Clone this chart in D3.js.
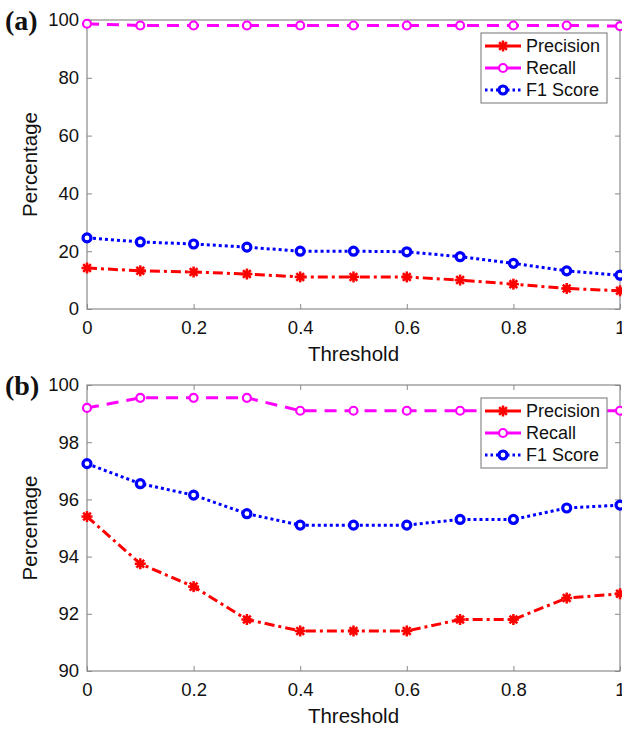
<!DOCTYPE html>
<html>
<head>
<meta charset="utf-8">
<script src="https://cdn.jsdelivr.net/npm/d3@7"></script>
<style>
  body { margin: 0; background: #fff; }
  svg { display: block; font-family: "Liberation Sans", Arial, sans-serif; }
</style>
</head>
<body>
<div id="chart"></div>
<script>
const thresholds = [0, 0.1, 0.2, 0.3, 0.4, 0.5, 0.6, 0.7, 0.8, 0.9, 1];
const xTicks = [0, 0.2, 0.4, 0.6, 0.8, 1];

// panel (a)
const precisionA = [14.2, 13.2, 12.8, 12.1, 11.1, 11.1, 11.1, 10.0, 8.6, 7.1, 6.3];
const recallA = [98.7, 98.1, 98.1, 98.1, 98.1, 98.1, 98.1, 98.1, 98.1, 98.1, 97.9];
const f1A = [24.6, 23.2, 22.5, 21.4, 20.0, 20.0, 19.8, 18.1, 15.8, 13.2, 11.7];
const yTicksA = [0, 20, 40, 60, 80, 100];

// panel (b)
const precisionB = [95.4, 93.75, 92.95, 91.8, 91.4, 91.4, 91.4, 91.8, 91.8, 92.55, 92.7];
const recallB = [99.2, 99.55, 99.55, 99.55, 99.1, 99.1, 99.1, 99.1, 99.1, 99.1, 99.1];
const f1B = [97.25, 96.55, 96.15, 95.5, 95.1, 95.1, 95.1, 95.3, 95.3, 95.7, 95.8];
const yTicksB = [90, 92, 94, 96, 98, 100];

const seriesNames = ["Precision", "Recall", "F1 Score"];

const width = 622;
const height = 730;

const svg = d3.select("#chart")
  .append("svg")
  .attr("width", width)
  .attr("height", height);

const styles = [
  { color: "#ff0000", dash: "10,4,3,4", marker: "star" },
  { color: "#ff00ff", dash: "12,8", marker: "ring" },
  { color: "#0000ff", dash: "3,3", marker: "dot" },
];

function drawMarker(g, type, color, x, y) {
  if (type === "star") {
    const r = 5.5;
    for (let i = 0; i < 4; i++) {
      const a = (Math.PI / 4) * i;
      g.append("line")
        .attr("x1", x - r * Math.cos(a)).attr("y1", y - r * Math.sin(a))
        .attr("x2", x + r * Math.cos(a)).attr("y2", y + r * Math.sin(a))
        .attr("stroke", color).attr("stroke-width", 2.5);
    }
    g.append("circle").attr("cx", x).attr("cy", y).attr("r", 3.5).attr("fill", color);
  } else if (type === "ring") {
    g.append("circle").attr("cx", x).attr("cy", y).attr("r", 4)
      .attr("fill", "#fff").attr("stroke", color).attr("stroke-width", 2.2);
  } else {
    g.append("circle").attr("cx", x).attr("cy", y).attr("r", 4)
      .attr("fill", "#fff").attr("stroke", color).attr("stroke-width", 3.2);
  }
}

function panel(opts) {
  const { top, bottom, yDomain, yTicks, data, label, legendY } = opts;
  const left = 87, right = 620;
  const axisColor = "#8a8a8a";

  const x = d3.scaleLinear().domain([0, 1]).range([left, right]);
  const y = d3.scaleLinear().domain(yDomain).range([bottom, top]);

  const g = svg.append("g");

  // box
  g.append("rect")
    .attr("x", left).attr("y", top)
    .attr("width", right - left).attr("height", bottom - top)
    .attr("fill", "none").attr("stroke", axisColor).attr("stroke-width", 1.2);

  // ticks and labels
  const xAx = g.append("g")
    .attr("transform", `translate(0,${bottom})`)
    .call(d3.axisBottom(x).tickValues(xTicks).tickSizeInner(-5).tickSizeOuter(0).tickPadding(12)
      .tickFormat(d => d === 0 || d === 1 ? d3.format("d")(d) : d3.format(".1f")(d)));
  const xTop = g.append("g")
    .attr("transform", `translate(0,${top})`)
    .call(d3.axisTop(x).tickValues(xTicks).tickSizeInner(-5).tickSizeOuter(0).tickFormat(""));
  const yAx = g.append("g")
    .attr("transform", `translate(${left},0)`)
    .call(d3.axisLeft(y).tickValues(yTicks).tickSizeInner(-5).tickSizeOuter(0).tickPadding(8));
  const yRight = g.append("g")
    .attr("transform", `translate(${right},0)`)
    .call(d3.axisRight(y).tickValues(yTicks).tickSizeInner(-5).tickSizeOuter(0).tickFormat(""));

  [xAx, xTop, yAx, yRight].forEach(a => {
    a.select(".domain").remove();
    a.selectAll("line").attr("stroke", axisColor);
    a.selectAll("text").attr("fill", "#111").style("font-size", "18.5px")
      .style("font-family", "'Liberation Sans', Arial, sans-serif");
  });

  g.append("text")
    .attr("x", (left + right) / 2).attr("y", bottom + 52)
    .attr("text-anchor", "middle")
    .style("font-size", "20.5px").attr("fill", "#111")
    .text("Threshold");

  g.append("text")
    .attr("transform", `translate(37,${(top + bottom) / 2}) rotate(-90)`)
    .attr("text-anchor", "middle")
    .style("font-size", "20.5px").attr("fill", "#111")
    .text("Percentage");

  g.append("text")
    .attr("x", 5).attr("y", top + 10)
    .style("font-family", "'Liberation Serif', 'Times New Roman', serif")
    .style("font-weight", "bold").style("font-size", "28px").attr("fill", "#111")
    .text(label);

  const line = d3.line().x((d, i) => x(thresholds[i])).y(d => y(d));

  const plot = g.append("g");
  data.forEach((vals, s) => {
    const st = styles[s];
    plot.append("path")
      .attr("d", line(vals))
      .attr("fill", "none")
      .attr("stroke", st.color)
      .attr("stroke-width", 3)
      .attr("stroke-dasharray", st.dash);
    vals.forEach((v, i) => drawMarker(plot, st.marker, st.color, x(thresholds[i]), y(v)));
  });

  // legend
  const lx = 481, lw = 126, lh = 70;
  const lg = g.append("g");
  lg.append("rect")
    .attr("x", lx).attr("y", legendY).attr("width", lw).attr("height", lh)
    .attr("fill", "#fff").attr("stroke", axisColor).attr("stroke-width", 1.2);
  seriesNames.forEach((name, s) => {
    const st = styles[s];
    const cy = legendY + 13 + s * 22;
    lg.append("line")
      .attr("x1", lx + 4).attr("x2", lx + 40).attr("y1", cy).attr("y2", cy)
      .attr("stroke", st.color).attr("stroke-width", 3)
      .attr("stroke-dasharray", s === 2 ? "2.5,3" : null);
    drawMarker(lg, st.marker, st.color, lx + 22, cy);
    lg.append("text")
      .attr("x", lx + 45).attr("y", cy + 6)
      .style("font-size", "18px").attr("fill", "#111")
      .text(name);
  });
}

panel({
  top: 20, bottom: 309, yDomain: [0, 100], yTicks: yTicksA,
  data: [precisionA, recallA, f1A], label: "(a)", legendY: 33,
});

panel({
  top: 385, bottom: 671, yDomain: [90, 100], yTicks: yTicksB,
  data: [precisionB, recallB, f1B], label: "(b)", legendY: 398,
});
</script>
</body>
</html>
